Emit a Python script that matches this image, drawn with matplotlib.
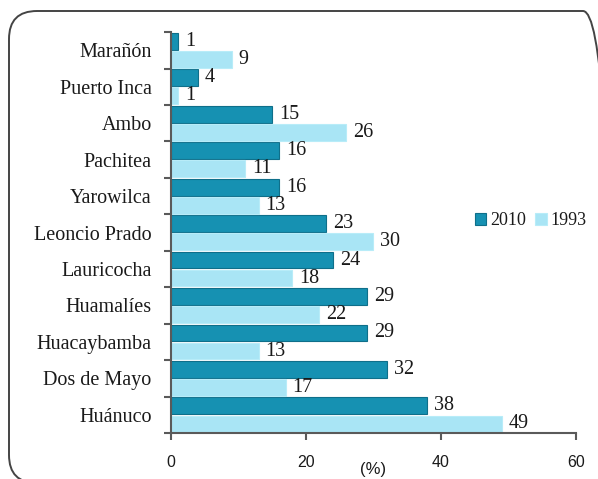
import matplotlib
matplotlib.use('Agg')
import matplotlib.pyplot as plt
import numpy as np
from matplotlib.patches import FancyBboxPatch

provinces = ['Marañón', 'Puerto Inca', 'Ambo', 'Pachitea', 'Yarowilca',
             'Leoncio Prado', 'Lauricocha', 'Huamalíes', 'Huacaybamba',
             'Dos de Mayo', 'Huánuco']
pct_2010 = [1, 4, 15, 16, 16, 23, 24, 29, 29, 32, 38]
pct_1993 = [9, 1, 26, 11, 13, 30, 18, 22, 13, 17, 49]

C_2010 = '#1691b2'
C_1993 = '#a9e5f5'
TXT = '#1a1a1a'
AX = '#5a5a5a'
SANS = ['Liberation Sans', 'DejaVu Sans']

plt.rcParams['font.family'] = ['Liberation Serif', 'DejaVu Serif']
plt.rcParams['font.size'] = 14.5

fig = plt.figure(figsize=(5.98, 4.79), dpi=100)
ax = fig.add_axes([0.286, 0.096, 0.677, 0.837])

# rounded frame around the whole chart
frame = FancyBboxPatch((0.09, -0.04), 6.02, 4.72,
                       boxstyle='round,pad=0,rounding_size=0.28',
                       transform=fig.dpi_scale_trans, fill=False,
                       edgecolor='#444444', linewidth=1.4, clip_on=False)
fig.patches.append(frame)

y = np.arange(len(provinces))
h = 0.46
b1 = ax.barh(y - 0.245, pct_2010, height=h, color=C_2010,
             edgecolor='#0f6f8a', linewidth=0.8, label='2010')
b2 = ax.barh(y + 0.25, pct_1993, height=h, color=C_1993,
             edgecolor='#b8ecf8', linewidth=0.8, label='1993')

for bars, vals in ((b1, pct_2010), (b2, pct_1993)):
    for bar, v in zip(bars, vals):
        ax.annotate(str(v), (v, bar.get_y() + bar.get_height() / 2),
                    xytext=(5, 0), textcoords='offset points',
                    va='center', ha='left', color=TXT, fontsize=14.5)

ax.set_ylim(len(provinces) - 0.5, -0.5)
ax.set_xlim(0, 60)
ax.set_yticks(y)
ax.set_yticklabels(provinces, color=TXT, fontsize=14.5)
ax.tick_params(axis='y', length=0, pad=14)
ax.set_yticks(np.arange(-0.5, len(provinces)), minor=True)
ax.tick_params(axis='y', which='minor', length=5, width=1.5, color=AX)
ax.set_xticks([0, 20, 40, 60])
ax.tick_params(axis='x', length=5, width=1.5, color=AX, labelcolor=TXT,
               pad=11)
for lbl in ax.get_xticklabels():
    lbl.set_family(SANS)
    lbl.set_fontsize(11.5)

for s in ('top', 'right'):
    ax.spines[s].set_visible(False)
for s in ('left', 'bottom'):
    ax.spines[s].set_color(AX)
    ax.spines[s].set_linewidth(1.5)

fig.text(0.624, 0.019, '(%)', ha='center', va='center', color=TXT,
         fontsize=12, family=SANS)

ax.legend(loc='center left', bbox_to_anchor=(0.75, 0.53), ncol=2,
          frameon=False, borderpad=0, borderaxespad=0,
          handlelength=0.65, handleheight=0.65,
          handletextpad=0.2, columnspacing=0.5, fontsize=13,
          labelcolor=TXT)

fig.savefig('out.png', dpi=100)
